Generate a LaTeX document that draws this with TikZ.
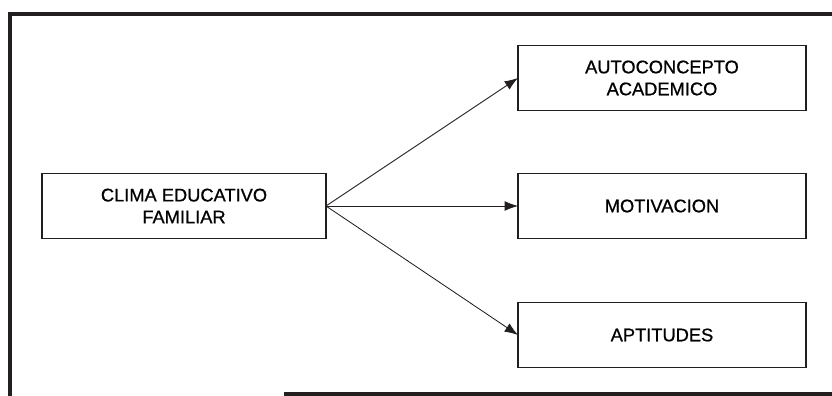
\documentclass[tikz,border=0pt]{standalone}
\usepackage{fontspec}
\setmainfont[FakeBold=0.8]{Liberation Sans}
\newcommand*{\boxfont}{\fontsize{13}{15.6}\selectfont}
\definecolor{ink}{cmyk}{0.00,0.00,0.00,1.00}
\usetikzlibrary{arrows.meta}
\usetikzlibrary{positioning}
\tikzstyle{base}=[inner sep=0pt, outer sep=0pt]
\tikzstyle{block}=[draw=ink, line width=1.4pt, minimum width=7.2cm, minimum height=1.625cm, align=center, font=\boxfont]
\tikzstyle{link}=[ink, line width=0.6pt, -{Latex[length=9.5pt,width=7pt]}]
\tikzstyle{frame}=[ink, line width=2.5pt]

\begin{document}
\begin{tikzpicture}[base]
    \path [use as bounding box] (0,0) rectangle (20.8,9.9);
        \draw [frame] (20.8,9.55) -- (0.25,9.55) -- (0.25,0);
        \draw [frame] (7.1,0.05) -- (20.8,0.05);
        \node [block, minimum width=7.1cm] (clima) at (4.6,4.75) {CLIMA EDUCATIVO\\FAMILIAR};
        \node [block, right=4.8cm of clima] (motiv) {MOTIVACION};
        \node [block, above=1.575cm of motiv] (auto) {AUTOCONCEPTO\\ACADEMICO};
        \node [block, below=1.6cm of motiv] (apti) {APTITUDES};
        \draw [link] (clima.east) -- (auto.west);
        \draw [link] (clima.east) -- (motiv.west);
        \draw [link] (clima.east) -- (apti.west);
    \end{tikzpicture}
\end{document}
